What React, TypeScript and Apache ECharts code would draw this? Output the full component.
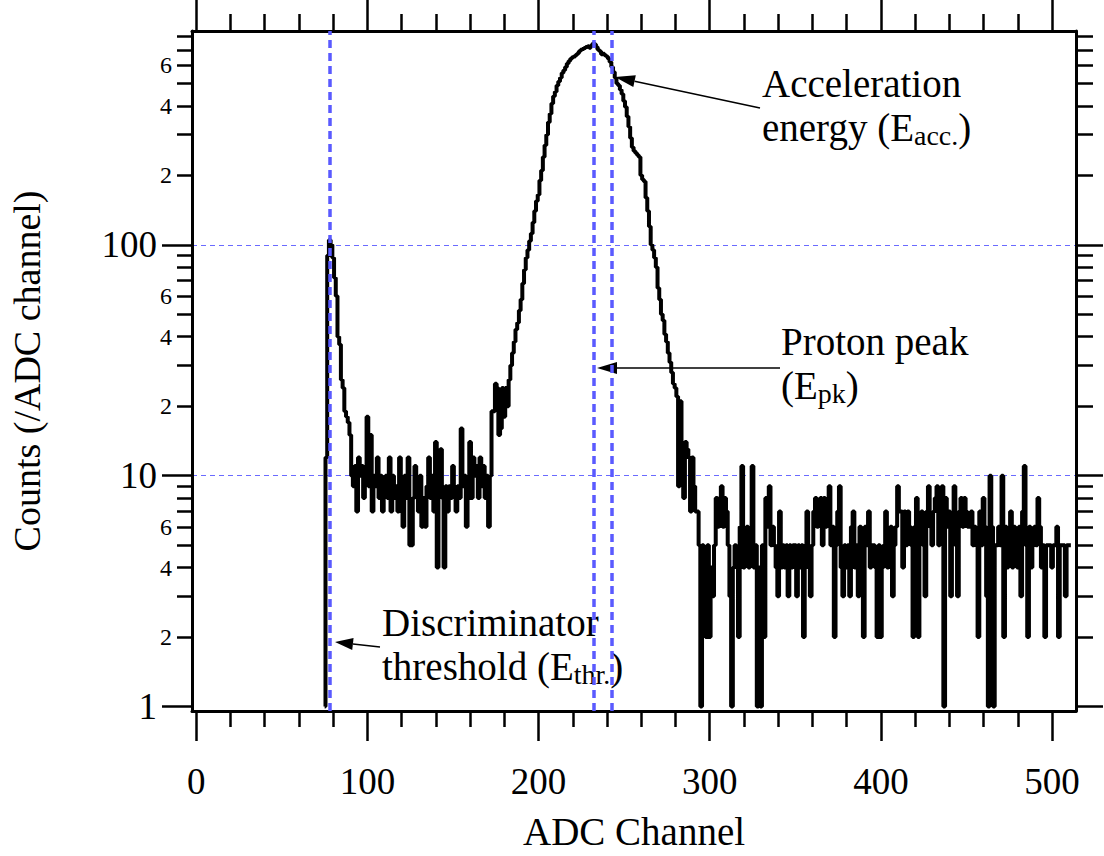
import React, { useEffect, useRef } from "react";
import * as echarts from "echarts";

// ---------- data (counts per ADC channel) ----------
const thresholdStart = 75; // channels 75..90
const thresholdCounts = [1, 12, 90, 105, 100, 88, 72, 60, 40, 37, 26, 24, 19, 18, 17, 15];

const valleyStart = 91; // channels 91..171
const valleyCounts = [
  10, 9, 11, 7, 12, 10, 11, 8, 10, 18,
  9, 15, 7, 10, 9, 12, 8, 10, 7, 9,
  10, 8, 12, 7, 10, 8, 9, 7, 12, 9,
  6, 10, 8, 12, 5, 5, 8, 11, 9, 7,
  10, 6, 8, 6, 9, 12, 8, 10, 7, 14,
  4, 9, 13, 8, 4, 9, 7, 9, 8, 11,
  9, 7, 9, 8, 16, 9, 10, 6, 8, 14,
  8, 12, 10, 11, 8, 12, 9, 11, 8, 10,
  6,
];

const protonStart = 172; // channels 172..291
const protonCounts = [
  10, 19, 19, 25, 24, 15, 16, 24, 18, 24,
  20, 26, 30, 34, 38, 43, 46, 52, 58, 68,
  78, 88, 95, 104, 112, 125, 140, 155, 165, 190,
  210, 240, 270, 300, 340, 370, 410, 440, 460, 490,
  510, 530, 555, 570, 590, 610, 625, 640, 650, 655,
  665, 675, 690, 700, 705, 712, 720, 725, 715, 730,
  745, 740, 720, 700, 690, 670, 672, 662, 655, 640,
  620, 590, 560, 530, 500, 490, 470, 450, 420, 395,
  360, 325, 290, 265, 255, 250, 245, 240, 200, 192,
  188, 160, 140, 120, 100, 95, 88, 80, 65, 58,
  50, 47, 41, 38, 34, 31, 28, 25, 24, 22,
  9, 21, 13, 8, 14, 13, 12, 7, 12, 9,
];

const backgroundStart = 292; // channels 292..511
const backgroundCounts = [
  7, 7, 5, 1, 5, 4, 2, 5, 2, 4,
  3, 5, 8, 6, 8, 9, 6, 8, 7, 5,
  3, 1, 4, 5, 4, 2, 6, 11, 4, 5,
  6, 4, 6, 11, 4, 5, 1, 4, 1, 5,
  2, 8, 6, 9, 5, 6, 5, 4, 3, 7,
  4, 5, 4, 5, 3, 5, 4, 5, 5, 3,
  5, 4, 5, 2, 5, 7, 4, 3, 5, 7,
  8, 6, 7, 8, 5, 8, 6, 7, 9, 5,
  6, 2, 5, 7, 9, 4, 3, 5, 4, 5,
  3, 6, 7, 4, 5, 3, 6, 5, 2, 6,
  5, 7, 4, 5, 5, 4, 2, 5, 2, 4,
  5, 7, 4, 5, 6, 3, 5, 6, 9, 7,
  7, 4, 7, 5, 7, 6, 5, 2, 6, 8,
  2, 6, 7, 5, 3, 7, 9, 6, 5, 7,
  8, 9, 5, 7, 9, 1, 8, 6, 7, 3,
  6, 9, 5, 3, 7, 8, 6, 8, 7, 6,
  6, 7, 5, 6, 5, 2, 7, 5, 8, 6,
  3, 1, 10, 6, 1, 5, 5, 6, 5, 10,
  2, 6, 4, 5, 7, 4, 6, 5, 4, 6,
  3, 7, 11, 5, 2, 6, 4, 5, 6, 5,
  8, 6, 4, 5, 2, 5, 5, 5, 4, 5,
  5, 6, 2, 5, 5, 5, 3, 5, 5, 5,
];

// reference channels (blue dashed verticals)
const markerChannels = [78, 232, 243];
// dashed horizontal guide levels
const guideCounts = [10, 100];

// axis ticks
const xMajorTicks = [0, 100, 200, 300, 400, 500];
const xMinorTicks = [20, 40, 60, 80, 120, 140, 160, 180, 220, 240, 260, 280, 320, 340, 360, 380, 420, 440, 460, 480];
const yMajorTicks = [1, 10, 100];
const yMinorTicks = [2, 3, 4, 5, 6, 7, 8, 9, 20, 30, 40, 50, 60, 70, 80, 90, 200, 300, 400, 500, 600, 700, 800];
const yMinorLabels = [2, 4, 6, 20, 40, 60, 200, 400, 600];

const X_MIN = -2.5;
const X_MAX = 514;
const Y_MIN = 0.956;
const Y_MAX = 844;

const FONT = "'Liberation Serif', 'Times New Roman', Times, serif";
const lg = (v: number) => Math.log10(v);

function buildData() {
  const out: number[][] = [];
  const segs: [number, number[]][] = [
    [thresholdStart, thresholdCounts],
    [valleyStart, valleyCounts],
    [protonStart, protonCounts],
    [backgroundStart, backgroundCounts],
  ];
  segs.forEach(([s, arr]) => arr.forEach((v, i) => out.push([s + i, lg(v)])));
  return out;
}

function arrow(tail: number[], tip: number[], headLen = 20, halfW = 6) {
  const dx = tip[0] - tail[0];
  const dy = tip[1] - tail[1];
  const L = Math.hypot(dx, dy);
  const ux = dx / L;
  const uy = dy / L;
  const bx = tip[0] - ux * headLen;
  const by = tip[1] - uy * headLen;
  const nx = -uy;
  const ny = ux;
  return [
    { type: "line", silent: true, shape: { x1: tail[0], y1: tail[1], x2: bx, y2: by }, style: { stroke: "#000", lineWidth: 1.6 } },
    {
      type: "polygon",
      silent: true,
      shape: { points: [tip, [bx + nx * halfW, by + ny * halfW], [bx - nx * halfW, by - ny * halfW]] },
      style: { fill: "#000" },
    },
  ];
}

const rich = {
  m: { fontSize: 39, fontFamily: FONT, lineHeight: 44, fill: "#000" },
  s: { fontSize: 28, fontFamily: FONT, lineHeight: 15, verticalAlign: "bottom", fill: "#000" },
};

function note(x: number, y: number, text: string) {
  return {
    type: "text",
    silent: true,
    x,
    y,
    style: {
      text,
      rich,
      fill: "#000",
      fontFamily: FONT,
      fontSize: 39,
      align: "left",
      textAlign: "left",
      verticalAlign: "top",
      textVerticalAlign: "top",
    },
  };
}

export default function App() {
  const ref = useRef<HTMLDivElement>(null);

  useEffect(() => {
    if (!ref.current) return;
    const chart = echarts.init(ref.current, undefined, { renderer: "svg" });

    const tickStyle = { color: "#000", width: 2.5 };
    const lineStyle = { color: "#000", width: 3 };

    const xAxisBase = (position: string) => ({
      type: "value",
      position,
      min: X_MIN,
      max: X_MAX,
      splitLine: { show: false },
    });
    const yAxisBase = (position: string) => ({
      type: "value",
      position,
      min: lg(Y_MIN),
      max: lg(Y_MAX),
      splitLine: { show: false },
    });

    const markerStyle = { type: [8, 5], color: "#5a5aff", width: 3.5, opacity: 1 };

    const option: any = {
      animation: false,
      backgroundColor: "#fff",
      grid: { left: 190, right: 28, top: 31, bottom: 144, containLabel: false },
      xAxis: [
        {
          ...xAxisBase("bottom"),
          axisLine: { show: true, onZero: false, lineStyle },
          axisTick: { show: true, customValues: xMajorTicks, length: 30, lineStyle: tickStyle },
          axisLabel: {
            show: true,
            customValues: xMajorTicks,
            fontSize: 37,
            fontFamily: FONT,
            color: "#000",
            margin: 52,
          },
          name: "ADC Channel",
          nameLocation: "middle",
          nameGap: 101,
          nameTextStyle: { fontSize: 39, fontFamily: FONT, color: "#000" },
        },
        {
          ...xAxisBase("bottom"),
          axisLine: { show: false, onZero: false },
          axisTick: { show: true, customValues: xMinorTicks, length: 16, lineStyle: tickStyle },
          axisLabel: { show: false },
        },
        {
          ...xAxisBase("top"),
          axisLine: { show: true, onZero: false, lineStyle },
          axisTick: { show: true, customValues: xMajorTicks, length: 31, lineStyle: tickStyle },
          axisLabel: { show: false },
        },
        {
          ...xAxisBase("top"),
          axisLine: { show: false, onZero: false },
          axisTick: { show: true, customValues: xMinorTicks, length: 17, lineStyle: tickStyle },
          axisLabel: { show: false },
        },
      ],
      yAxis: [
        {
          ...yAxisBase("left"),
          axisLine: { show: true, onZero: false, lineStyle },
          axisTick: { show: true, customValues: yMajorTicks.map(lg), length: 30, lineStyle: tickStyle },
          axisLabel: {
            show: true,
            customValues: yMajorTicks.map(lg),
            formatter: (v: number) => String(Math.round(Math.pow(10, v))),
            fontSize: 37,
            fontFamily: FONT,
            color: "#000",
            margin: 35,
          },
          name: "Counts (/ADC channel)",
          nameLocation: "middle",
          nameGap: 146,
          nameTextStyle: { fontSize: 38, fontFamily: FONT, color: "#000" },
        },
        {
          ...yAxisBase("left"),
          axisLine: { show: false, onZero: false },
          axisTick: { show: true, customValues: yMinorTicks.map(lg), length: 15, lineStyle: tickStyle },
          axisLabel: {
            show: true,
            customValues: yMinorLabels.map(lg),
            formatter: (v: number) => {
              const p = Math.floor(v + 1e-9);
              return String(Math.round(Math.pow(10, v) / Math.pow(10, p)));
            },
            fontSize: 24,
            fontFamily: FONT,
            color: "#000",
            margin: 20,
          },
        },
        {
          ...yAxisBase("right"),
          axisLine: { show: true, onZero: false, lineStyle },
          axisTick: { show: true, customValues: yMajorTicks.map(lg), length: 27, lineStyle: tickStyle },
          axisLabel: { show: false },
        },
        {
          ...yAxisBase("right"),
          axisLine: { show: false, onZero: false },
          axisTick: { show: true, customValues: yMinorTicks.map(lg), length: 17, lineStyle: tickStyle },
          axisLabel: { show: false },
        },
        {
          // dashed horizontal guides at 10 and 100
          ...yAxisBase("left"),
          axisLine: { show: false, onZero: false },
          axisTick: { show: false, customValues: guideCounts.map(lg) },
          axisLabel: { show: false },
          splitLine: {
            show: true,
            lineStyle: { type: [5, 4], color: "#6a6aff", width: 1, opacity: 1 },
          },
        },
      ],
      series: [
        {
          type: "line",
          name: "Counts",
          color: "#000",
          xAxisIndex: 0,
          yAxisIndex: 0,
          data: buildData(),
          step: "middle",
          showSymbol: false,
          symbol: "none",
          lineStyle: { color: "#000", width: 4 },
          z: 3,
          markLine: {
            silent: true,
            symbol: ["none", "none"],
            label: { show: false },
            lineStyle: markerStyle,
            data: markerChannels.map((c) => ({ xAxis: c, lineStyle: markerStyle })),
          },
        },
      ],
      graphic: [
        ...arrow([760, 108], [615, 77]),
        ...arrow([780, 368], [597, 368]),
        ...arrow([380, 647], [335, 642], 18, 6),
        note(762, 61, "{m|Acceleration}\n{m|energy (E}{s|acc.}{m|)}"),
        note(781, 319, "{m|Proton peak}\n{m|(E}{s|pk}{m|)}"),
        note(382, 600, "{m|Discriminator}\n{m|threshold (E}{s|thr.}{m|)}"),
      ],
    };

    chart.setOption(option);
    return () => chart.dispose();
  }, []);

  return (
    <div
      ref={ref}
      style={{ position: "absolute", left: 0, top: 0, width: 1104, height: 856, background: "#fff" }}
    />
  );
}
